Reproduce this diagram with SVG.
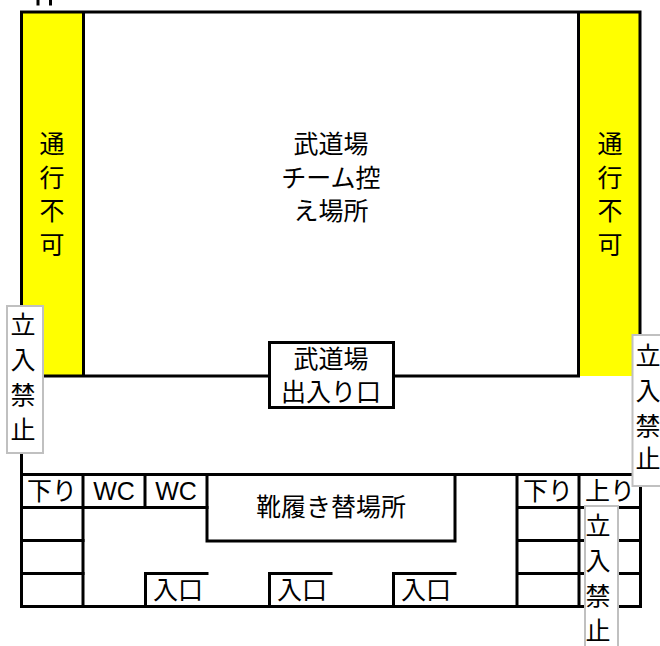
<svg xmlns="http://www.w3.org/2000/svg" width="660" height="646" viewBox="0 0 660 646">
<style>
.l{stroke:#000;stroke-width:3;fill:none;stroke-linecap:square}
.g{fill:#fff;stroke:#c0c0c0;stroke-width:2}
text{font-family:"Liberation Sans","Noto Sans CJK JP",sans-serif;font-size:25px;fill:#000;text-anchor:middle}
</style>
<rect width="660" height="646" fill="#fff"/>
<g id="zones">
<rect id="yellow-left" x="21" y="12" width="62" height="364" fill="#ff0"/>
<rect id="yellow-right" x="579" y="12" width="62" height="364" fill="#ff0"/>
</g>
<g id="connectors">
<path class="l" d="M38 0V4M50.500 0V4"/>
<path class="l" d="M21.500 12H640M21.500 12V606.500M83.500 12V376M578.500 12V376M640 12V376M21.500 376H578.500"/>
<path class="l" d="M21.500 474.500H640M21.500 507.500H207M21.500 540.500H83M21.500 573.500H83M21.500 606.500H640"/>
<path class="l" d="M83 474.500V606.500M145 474.500V507.500M207 474.500V541H455V474.500"/>
<path class="l" d="M517 474.500V606.500M579 474.500V606.500M640.500 474.500V606.500M517 507.500H640.500M517 540.500H640.500M517 573.500H640.500"/>
<path class="l" d="M145.500 606.500V573.500H207M269.500 606.500V573.500H331M393.500 606.500V573.500H455"/>
</g>
<g id="node-left-pass"><text x="52" y="153">通</text><text x="52" y="187">行</text><text x="52" y="220">不</text><text x="52" y="254">可</text></g>
<g id="node-right-pass"><text x="610" y="153">通</text><text x="610" y="187">行</text><text x="610" y="220">不</text><text x="610" y="254">可</text></g>
<g id="node-waiting"><text x="331" y="153">武道場</text><text x="331" y="187">チーム控</text><text x="331" y="220">え場所</text></g>
<g id="node-door">
<rect x="269.500" y="342.500" width="124" height="65" fill="#fff" stroke="#000" stroke-width="3"/>
<text x="331" y="368">武道場</text><text x="331" y="401">出入り口</text>
</g>
<g id="node-shoes"><text x="331" y="516">靴履き替場所</text></g>
<g id="node-wc1"><text x="114" y="500">WC</text></g>
<g id="node-wc2"><text x="176" y="500">WC</text></g>
<g id="node-down-left"><text x="52" y="500">下り</text></g>
<g id="node-down-right"><text x="548" y="500">下り</text></g>
<g id="node-up-right"><text x="610" y="500">上り</text></g>
<g id="node-entry1"><text x="178" y="599">入口</text></g>
<g id="node-entry2"><text x="302" y="599">入口</text></g>
<g id="node-entry3"><text x="426" y="599">入口</text></g>
<g id="node-noentry-left">
<rect class="g" x="7" y="306" width="36" height="147"/>
<text x="23" y="334">立</text><text x="23" y="369">入</text><text x="23" y="404">禁</text><text x="23" y="439">止</text>
</g>
<g id="node-noentry-right">
<rect class="g" x="632.500" y="335" width="36" height="151"/>
<text x="648" y="365">立</text><text x="648" y="400">入</text><text x="648" y="435">禁</text><text x="648" y="468">止</text>
</g>
<g id="node-noentry-bottom">
<rect class="g" x="585" y="506" width="33" height="160"/>
<text x="598" y="535">立</text><text x="598" y="570">入</text><text x="598" y="605">禁</text><text x="598" y="640">止</text>
</g>
</svg>
